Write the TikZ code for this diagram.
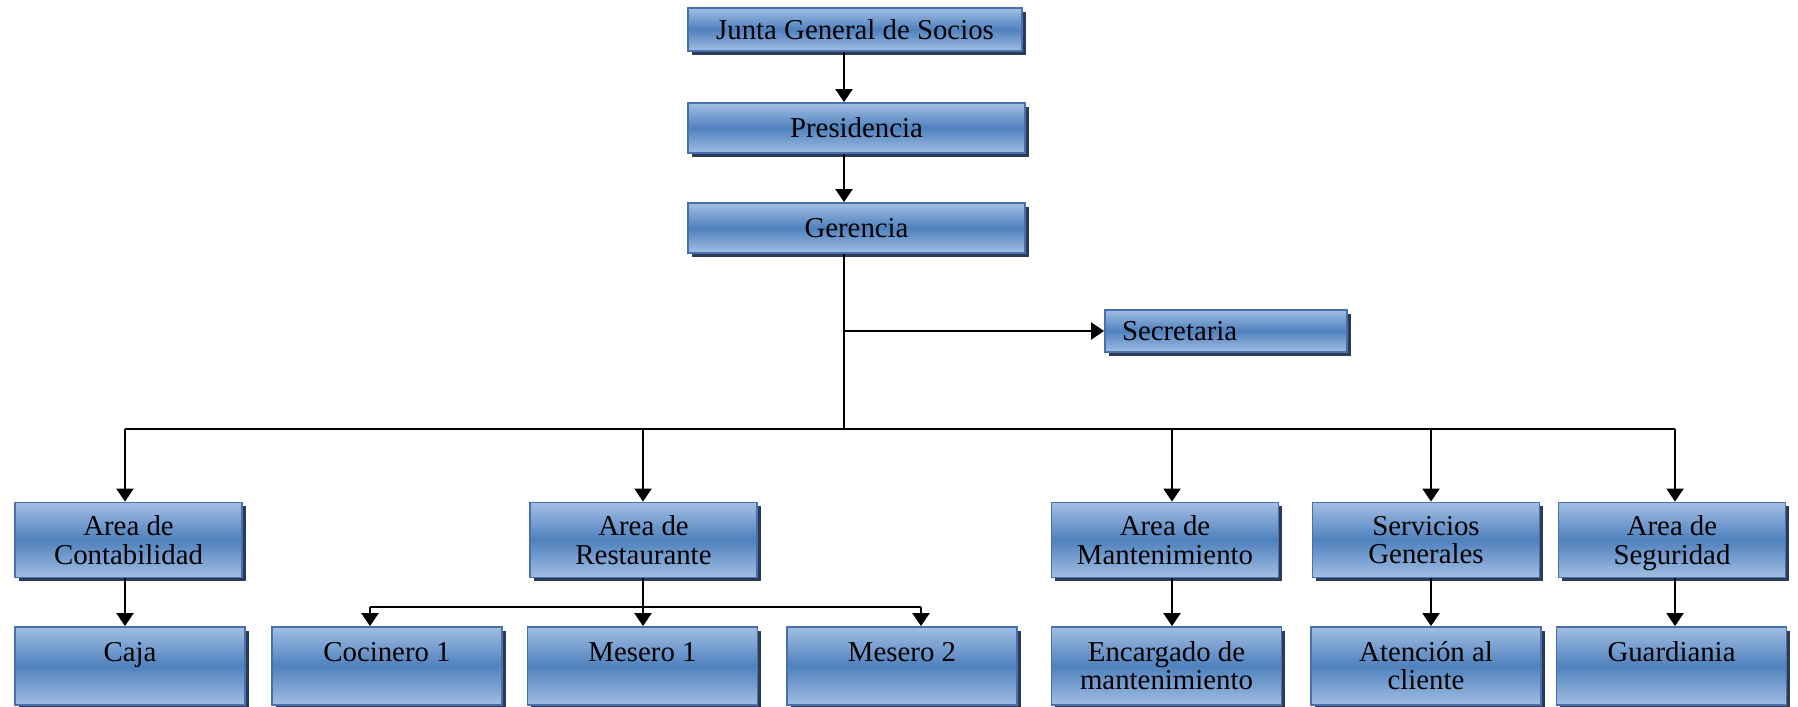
\documentclass[tikz,border=0pt]{standalone}
\usepackage{fontspec}
\setmainfont{Liberation Serif}
\usetikzlibrary{shadows,arrows.meta}
\definecolor{boxlight}{RGB}{162,190,228}
\definecolor{boxmid}{RGB}{79,129,189}
\definecolor{boxline}{RGB}{72,112,172}
\definecolor{boxshadow}{RGB}{45,60,85}
\tikzset{
  unit/.style={rectangle,draw=boxline,line width=0.5pt,top color=boxlight,bottom color=boxlight,middle color=boxmid,
    drop shadow={shadow xshift=0.35mm,shadow yshift=-0.35mm,fill=boxshadow,opacity=1},
    font=\fontsize{8.2}{8}\selectfont,align=center,inner sep=0pt},
  top/.style={unit,minimum width=3.37cm,minimum height=0.5cm},
  area/.style={unit,minimum width=2.27cm,minimum height=0.75cm,text depth=0pt},
  post/.style={unit,minimum width=2.30cm,minimum height=0.78cm},
  oneline/.style={text height=5.6pt,text depth=8pt},
  arr/.style={-{Triangle[width=4.8pt,length=3.7pt]},line width=0.7pt},
  lnk/.style={line width=0.7pt}
}
\begin{document}
\begin{tikzpicture}
\useasboundingbox (0,0) rectangle (17.98,7.06);
\node at (8.55,6.765) [top,minimum width=3.34cm,minimum height=0.43cm] (junta) {Junta General de Socios};
\node at (8.565,5.78) [top] (pres) {Presidencia};
\node at (8.565,4.78) [top] (ger) {Gerencia};
\node at (12.26,3.75) [unit,minimum height=0.42cm,text width=2.08cm,inner xsep=0.17cm,align=left] (secre) {Secretaria};
%
\node at (1.285,1.66) [area] (cont) {Area de\\Contabilidad};
\node at (6.435,1.66) [area] (rest) {Area de\\Restaurante};
\node at (11.65,1.66) [area] (mant) {Area de\\Mantenimiento};
\node at (14.26,1.66) [area] (serv) {Servicios\\Generales};
\node at (16.72,1.66) [area] (seg) {Area de\\Seguridad};
%
\node at (1.30,0.40) [post,oneline] (caja) {Caja};
\node at (3.87,0.40) [post,oneline] (coc) {Cocinero 1};
\node at (6.425,0.40) [post,oneline] (mes1) {Mesero 1};
\node at (9.02,0.40) [post,oneline] (mes2) {Mesero 2};
\node at (11.665,0.40) [post] (enc) {Encargado de\\mantenimiento};
\node at (14.26,0.40) [post] (aten) {Atención al\\cliente};
\node at (16.715,0.40) [post,oneline] (guard) {Guardiania};
%
\coordinate (tr) at (8.44,2.77);
\coordinate (dcont) at (1.25,2.77);
\coordinate (drest) at (6.43,2.77);
\coordinate (dmant) at (11.72,2.77);
\coordinate (dserv) at (14.31,2.77);
\coordinate (dseg) at (16.75,2.77);
\coordinate (rbus) at (6.43,0.99);
\coordinate (dcoc) at (3.70,0.99);
\coordinate (dmes2) at (9.21,0.99);
%
\draw[arr] (junta.south -| tr) -- (pres.north -| tr);
\draw[arr] (pres.south -| tr) -- (ger.north -| tr);
\draw[lnk] (ger.south -| tr) -- (tr);
\draw[arr] (secre.west -| tr) -- (secre.west);
\draw[lnk] (dcont) -- (dseg);
%
\draw[arr] (dcont) -- (dcont |- cont.north);
\draw[arr] (drest) -- (drest |- rest.north);
\draw[arr] (dmant) -- (dmant |- mant.north);
\draw[arr] (dserv) -- (dserv |- serv.north);
\draw[arr] (dseg) -- (dseg |- seg.north);
%
\draw[arr] (dcont |- cont.south) -- (dcont |- caja.north);
\draw[arr] (dmant |- mant.south) -- (dmant |- enc.north);
\draw[arr] (dserv |- serv.south) -- (dserv |- aten.north);
\draw[arr] (dseg |- seg.south) -- (dseg |- guard.north);
%
\draw[lnk] (rbus |- rest.south) -- (rbus);
\draw[lnk] (dcoc) -- (dmes2);
\draw[arr] (dcoc) -- (dcoc |- coc.north);
\draw[arr] (rbus) -- (rbus |- mes1.north);
\draw[arr] (dmes2) -- (dmes2 |- mes2.north);
\end{tikzpicture}
\end{document}
